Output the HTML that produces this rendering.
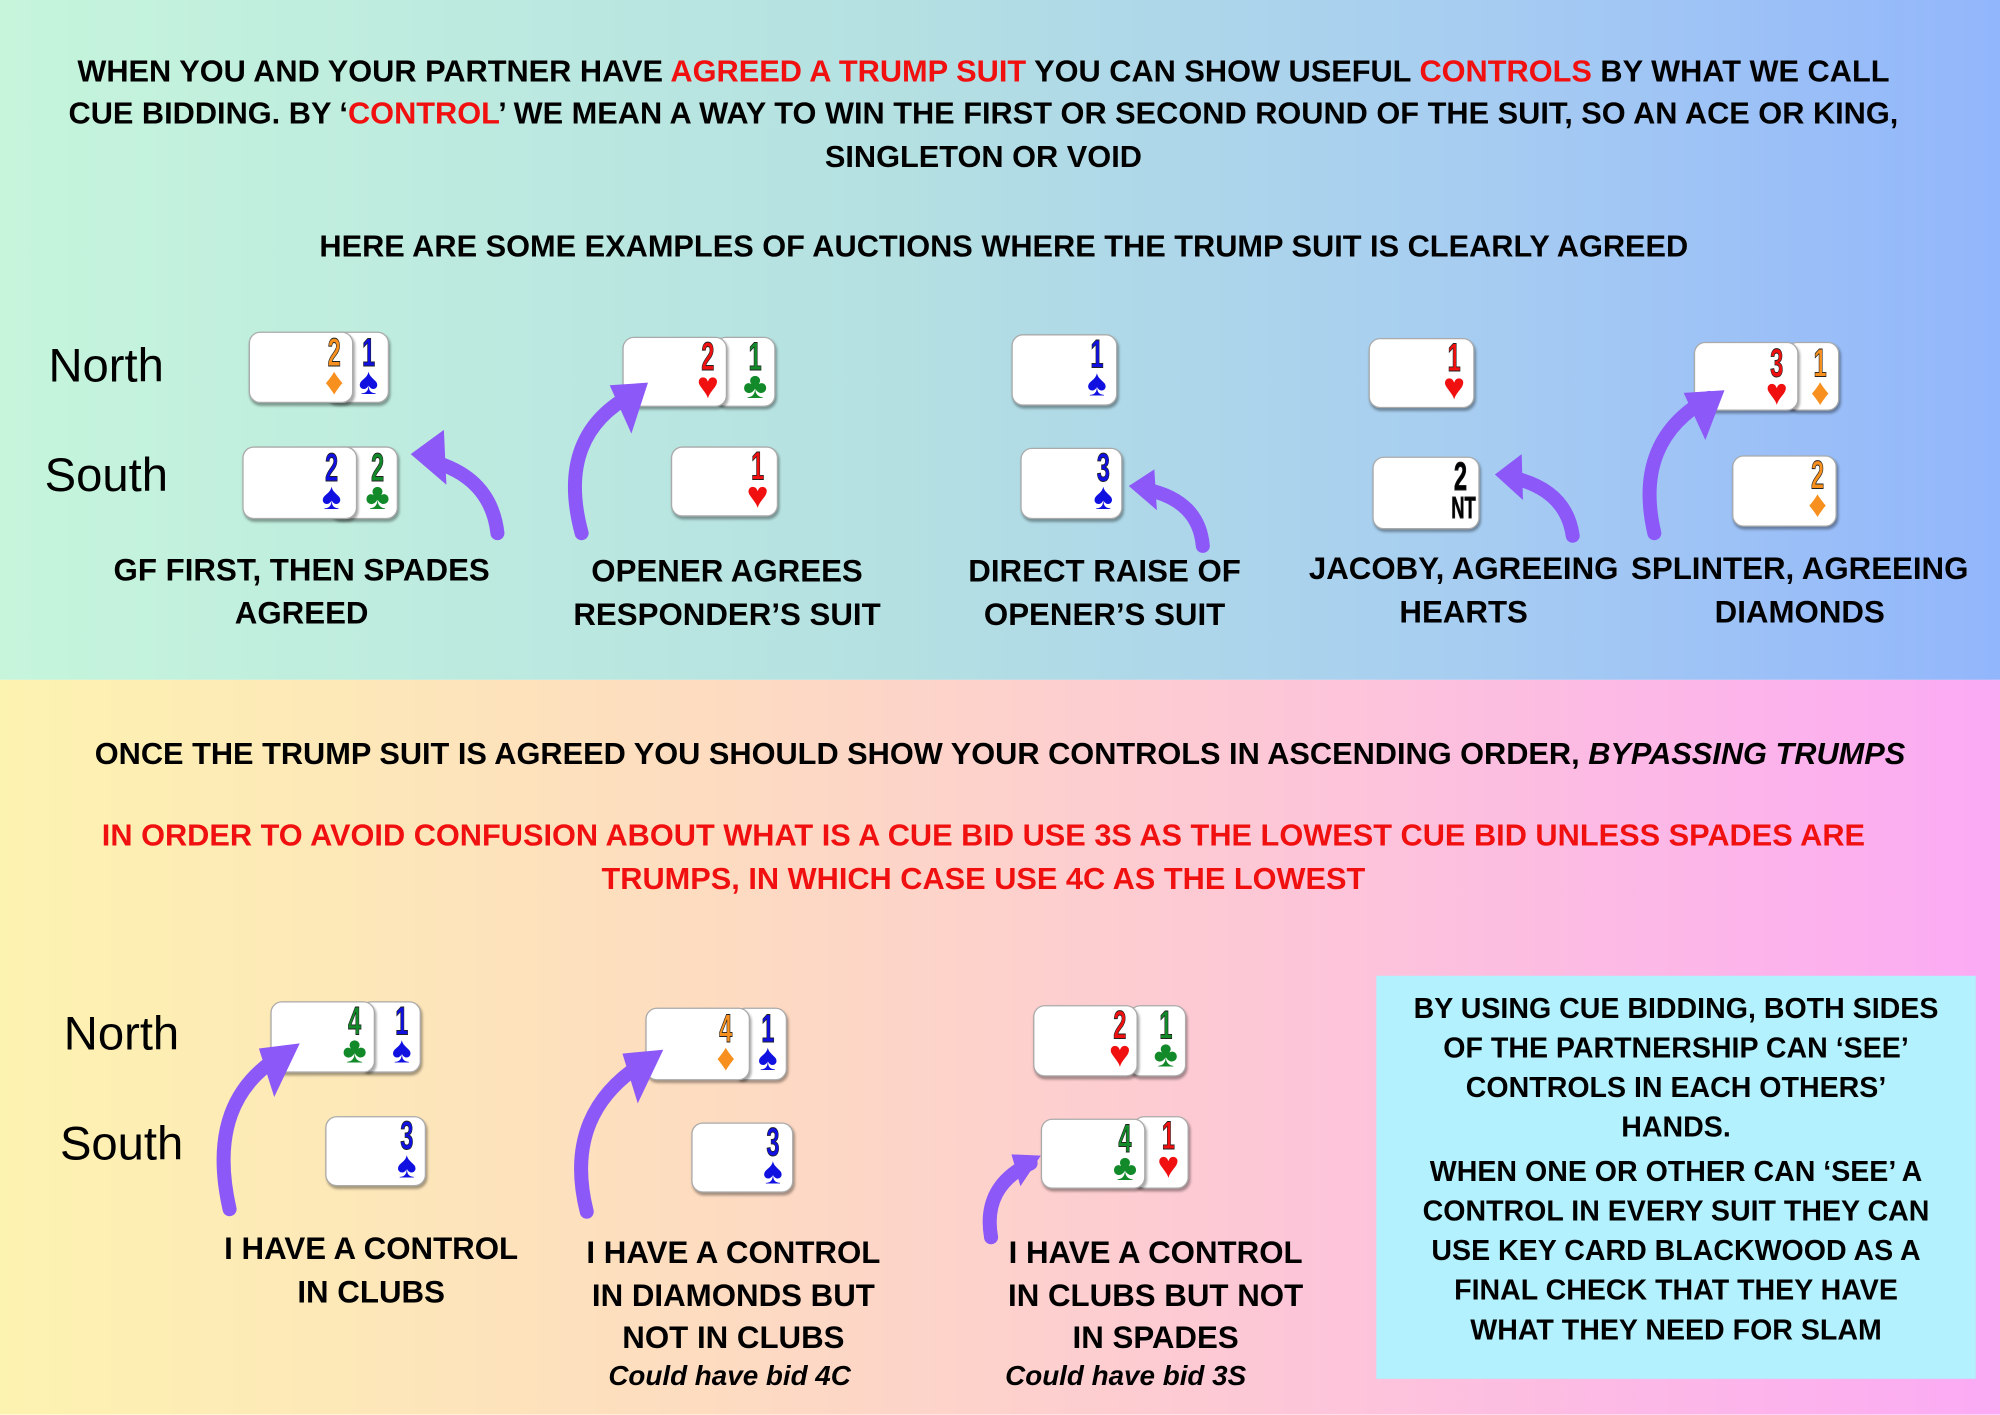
<!DOCTYPE html>
<html><head><meta charset="utf-8">
<style>
html,body{margin:0;padding:0;width:2000px;height:1414px;overflow:hidden;}
#w{position:absolute;left:0;top:0;width:1568px;height:1109px;transform:scale(1.27551);transform-origin:0 0;font-family:"Liberation Sans",Arial,sans-serif;}
#top{position:absolute;left:0;top:0;width:1568px;height:533px;background:linear-gradient(90deg,#c6f5dc 0%,#b4e0e2 45%,#a6ccf2 75%,#92b6fb 100%);}
#bot{position:absolute;left:0;top:533px;width:1568px;height:576px;background:linear-gradient(90deg,#fdf3b0 0%,#fddcc0 35%,#fdc6d8 65%,#fbaaf4 100%);}
.t{position:absolute;left:0;width:1542px;text-align:center;font-weight:bold;font-size:24.1px;white-space:nowrap;color:#000;}
.r{color:#f01010}
.l{position:absolute;font-weight:bold;font-size:24.5px;text-align:center;white-space:nowrap;line-height:34px;}
.ns{position:absolute;font-size:37px;color:#000;}
.c{position:absolute;background:#fff;border:1px solid #aaa;border-radius:9px;box-shadow:1px 2px 2px rgba(0,0,0,0.35);}
.k{position:absolute;width:24px;text-align:center;font-weight:bold;line-height:1;}
.k b{display:block;font-size:31px;transform:scaleX(0.6);-webkit-text-stroke:0.7px #222;}
.k i{display:block;font-style:normal;font-size:29px;margin-top:-6px;}
#box{position:absolute;left:1079px;top:765px;width:470px;height:316px;background:#b2f1fd;}
#box div{text-align:center;font-weight:bold;font-size:22.4px;line-height:31px;white-space:nowrap;}
.it{position:absolute;font-weight:bold;font-style:italic;font-size:21.8px;white-space:nowrap;text-align:center;}
svg{position:absolute;left:0;top:0;}
</style></head><body><div id="w">
<div id="top"></div><div id="bot"></div>

<div class="t" style="top:43px">WHEN YOU AND YOUR PARTNER HAVE <span class="r">AGREED A TRUMP SUIT</span> YOU CAN SHOW USEFUL <span class="r">CONTROLS</span> BY WHAT WE CALL</div>
<div class="t" style="top:76px">CUE BIDDING. BY ‘<span class="r">CONTROL</span>’ WE MEAN A WAY TO WIN THE FIRST OR SECOND ROUND OF THE SUIT, SO AN ACE OR KING,</div>
<div class="t" style="top:110px">SINGLETON OR VOID</div>
<div class="t" style="top:180px;left:16px">HERE ARE SOME EXAMPLES OF AUCTIONS WHERE THE TRUMP SUIT IS CLEARLY AGREED</div>

<div class="ns" style="left:38px;top:266px">North</div>
<div class="ns" style="left:35px;top:352px">South</div>
<div class="ns" style="left:50px;top:790px">North</div>
<div class="ns" style="left:47px;top:876px">South</div>

<div class="l" style="left:80px;top:431px;width:313px">GF FIRST, THEN SPADES<br>AGREED</div>
<div class="l" style="left:420px;top:432px;width:300px">OPENER AGREES<br>RESPONDER’S SUIT</div>
<div class="l" style="left:730px;top:432px;width:272px">DIRECT RAISE OF<br>OPENER’S SUIT</div>
<div class="l" style="left:1020px;top:430px;width:255px">JACOBY, AGREEING<br>HEARTS</div>
<div class="l" style="left:1275px;top:430px;width:272px">SPLINTER, AGREEING<br>DIAMONDS</div>

<div class="t" style="top:578px;left:13px">ONCE THE TRUMP SUIT IS AGREED YOU SHOULD SHOW YOUR CONTROLS IN ASCENDING ORDER, <i>BYPASSING TRUMPS</i></div>
<div class="t r" style="top:642px">IN ORDER TO AVOID CONFUSION ABOUT WHAT IS A CUE BID USE 3S AS THE LOWEST CUE BID UNLESS SPADES ARE</div>
<div class="t r" style="top:676px">TRUMPS, IN WHICH CASE USE 4C AS THE LOWEST</div>

<div class="l" style="left:160px;top:963px;width:262px">I HAVE A CONTROL<br>IN CLUBS</div>
<div class="l" style="left:440px;top:966px;width:270px;line-height:33.5px">I HAVE A CONTROL<br>IN DIAMONDS BUT<br>NOT IN CLUBS</div>
<div class="it" style="left:437px;top:1066px;width:270px">Could have bid 4C</div>
<div class="l" style="left:775px;top:966px;width:262px;line-height:33.5px">I HAVE A CONTROL<br>IN CLUBS BUT NOT<br>IN SPADES</div>
<div class="it" style="left:750px;top:1066px;width:265px">Could have bid 3S</div>

<div id="box"><div style="margin-top:10px">BY USING CUE BIDDING, BOTH SIDES<br>OF THE PARTNERSHIP CAN ‘SEE’<br>CONTROLS IN EACH OTHERS’<br>HANDS.</div><div style="margin-top:4px">WHEN ONE OR OTHER CAN ‘SEE’ A<br>CONTROL IN EVERY SUIT THEY CAN<br>USE KEY CARD BLACKWOOD AS A<br>FINAL CHECK THAT THEY HAVE<br>WHAT THEY NEED FOR SLAM</div></div>

<!-- cards top -->
<div class="c" style="left:255px;top:260px;width:48px;height:54px"></div>
<div class="c" style="left:195px;top:260px;width:80px;height:54px"></div>
<div class="k" style="left:250px;top:261px;color:#f7901e"><b>2</b><i>♦</i></div>
<div class="k" style="left:277px;top:261px;color:#1010e0"><b>1</b><i>♠</i></div>

<div class="c" style="left:258px;top:350px;width:52px;height:55px"></div>
<div class="c" style="left:190px;top:350px;width:88px;height:55px"></div>
<div class="k" style="left:248px;top:351px;color:#1010e0"><b>2</b><i>♠</i></div>
<div class="k" style="left:284px;top:351px;color:#128a2a"><b>2</b><i>♣</i></div>

<div class="c" style="left:560px;top:264px;width:46px;height:53px"></div>
<div class="c" style="left:488px;top:264px;width:80px;height:53px"></div>
<div class="k" style="left:543px;top:264px;color:#f01010"><b>2</b><i>♥</i></div>
<div class="k" style="left:580px;top:264px;color:#128a2a"><b>1</b><i>♣</i></div>

<div class="c" style="left:526px;top:350px;width:82px;height:53px"></div>
<div class="k" style="left:582px;top:350px;color:#f01010"><b>1</b><i>♥</i></div>

<div class="c" style="left:793px;top:262px;width:81px;height:54px"></div>
<div class="k" style="left:848px;top:262px;color:#1010e0"><b>1</b><i>♠</i></div>
<div class="c" style="left:800px;top:351px;width:78px;height:54px"></div>
<div class="k" style="left:853px;top:351px;color:#1010e0"><b>3</b><i>♠</i></div>

<div class="c" style="left:1073px;top:265px;width:81px;height:53px"></div>
<div class="k" style="left:1128px;top:265px;color:#f01010"><b>1</b><i>♥</i></div>
<div class="c" style="left:1076px;top:358px;width:82px;height:55px"></div>
<div class="k" style="left:1133px;top:358px;color:#000"><b>2</b><b style="font-size:24px;margin-top:-2px">NT</b></div>

<div class="c" style="left:1400px;top:268px;width:40px;height:52px"></div>
<div class="c" style="left:1328px;top:268px;width:80px;height:52px"></div>
<div class="k" style="left:1381px;top:269px;color:#f01010"><b>3</b><i>♥</i></div>
<div class="k" style="left:1415px;top:269px;color:#f7901e"><b>1</b><i>♦</i></div>

<div class="c" style="left:1358px;top:357px;width:80px;height:54px"></div>
<div class="k" style="left:1413px;top:357px;color:#f7901e"><b>2</b><i>♦</i></div>

<!-- cards bottom -->
<div class="c" style="left:282px;top:785px;width:46px;height:54px"></div>
<div class="c" style="left:212px;top:785px;width:80px;height:54px"></div>
<div class="k" style="left:266px;top:785px;color:#128a2a"><b>4</b><i>♣</i></div>
<div class="k" style="left:303px;top:785px;color:#1010e0"><b>1</b><i>♠</i></div>

<div class="c" style="left:255px;top:875px;width:77px;height:53px"></div>
<div class="k" style="left:307px;top:875px;color:#1010e0"><b>3</b><i>♠</i></div>

<div class="c" style="left:575px;top:790px;width:40px;height:55px"></div>
<div class="c" style="left:506px;top:790px;width:80px;height:55px"></div>
<div class="k" style="left:557px;top:791px;color:#f7901e"><b>4</b><i>♦</i></div>
<div class="k" style="left:590px;top:791px;color:#1010e0"><b>1</b><i>♠</i></div>

<div class="c" style="left:542px;top:880px;width:78px;height:53px"></div>
<div class="k" style="left:594px;top:880px;color:#1010e0"><b>3</b><i>♠</i></div>

<div class="c" style="left:885px;top:788px;width:43px;height:54px"></div>
<div class="c" style="left:810px;top:788px;width:80px;height:54px"></div>
<div class="k" style="left:866px;top:788px;color:#f01010"><b>2</b><i>♥</i></div>
<div class="k" style="left:902px;top:788px;color:#128a2a"><b>1</b><i>♣</i></div>

<div class="c" style="left:888px;top:875px;width:42px;height:55px"></div>
<div class="c" style="left:816px;top:877px;width:80px;height:53px"></div>
<div class="k" style="left:870px;top:877px;color:#128a2a"><b>4</b><i>♣</i></div>
<div class="k" style="left:904px;top:875px;color:#f01010"><b>1</b><i>♥</i></div>

<svg width="1568" height="1109" viewBox="0 0 1568 1109">
<g fill="none" stroke="#8c58f8" stroke-linecap="round" stroke-width="11">
<path d="M390 418 Q385 375 340 362"/>
<path d="M456 418 Q435 340 498 308"/>
<path d="M943 428 Q940 393 900 384"/>
<path d="M1233 420 Q1228 385 1188 375"/>
<path d="M1297 418 Q1280 345 1340 312"/>
<path d="M180 948 Q160 860 225 825"/>
<path d="M460 950 Q440 870 510 830"/>
<path d="M777 970 Q770 930 808 912"/>
</g>
<g fill="#8c58f8">
<polygon points="322,356 348,337 350,380"/>
<polygon points="508,300 478,302 495,340"/>
<polygon points="885,381 905,368 907,400"/>
<polygon points="1172,372 1193,356 1194,392"/>
<polygon points="1352,306 1320,308 1337,345"/>
<polygon points="235,818 203,822 215,860"/>
<polygon points="520,823 488,826 500,865"/>
<polygon points="816,906 793,905 800,930"/>
</g>
</svg>
</div></body></html>
